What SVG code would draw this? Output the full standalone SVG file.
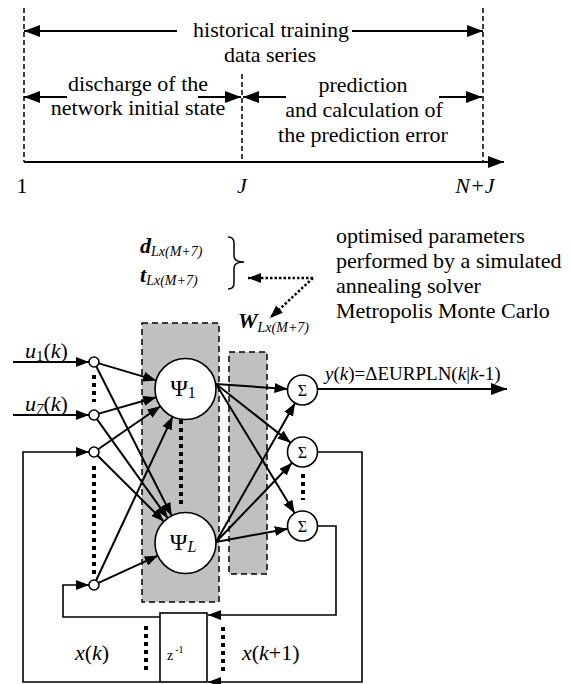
<svg xmlns="http://www.w3.org/2000/svg" width="573" height="684" viewBox="0 0 573 684">
<defs>
<marker id="ah" markerUnits="userSpaceOnUse" markerWidth="13" markerHeight="10" refX="13" refY="5" orient="auto"><path d="M0,0 L13,5 L0,10 z" fill="#000"/></marker>
<marker id="ahL" markerUnits="userSpaceOnUse" markerWidth="16" markerHeight="12" refX="16" refY="6" orient="auto"><path d="M0,0 L16,6 L0,12 z" fill="#000"/></marker>
</defs>

<g id="timeline">
<g stroke="#000" stroke-width="1.5" stroke-dasharray="5,3" fill="none">
<line x1="24" y1="8" x2="24" y2="162"/>
<line x1="242" y1="74" x2="242" y2="162"/>
<line x1="483" y1="8" x2="483" y2="162"/>
</g>
<line stroke="#000" stroke-width="2" x1="24" y1="162" x2="504" y2="162" marker-end="url(#ahL)"/>
<text font-family="Liberation Serif, Tinos, serif" font-size="22" text-anchor="middle" x="22" y="193">1</text>
<text font-family="Liberation Serif, Tinos, serif" font-size="22" text-anchor="middle" font-style="italic" x="242" y="193">J</text>
<text font-family="Liberation Serif, Tinos, serif" font-size="22" text-anchor="middle" font-style="italic" x="475" y="193">N+J</text>
</g>

<g id="historical">
<line stroke="#000" stroke-width="2" x1="177" y1="31" x2="24" y2="31" marker-end="url(#ahL)"/>
<line stroke="#000" stroke-width="2" x1="352" y1="31" x2="483" y2="31" marker-end="url(#ahL)"/>
<text font-family="Liberation Serif, Tinos, serif" font-size="22" text-anchor="middle" x="271" y="37">historical training</text>
<text font-family="Liberation Serif, Tinos, serif" font-size="22" text-anchor="middle" x="270" y="62">data series</text>
</g>

<g id="discharge">
<line stroke="#000" stroke-width="2" x1="67" y1="97" x2="24" y2="97" marker-end="url(#ahL)"/>
<line stroke="#000" stroke-width="2" x1="198" y1="97" x2="241" y2="97" marker-end="url(#ahL)"/>
<text font-family="Liberation Serif, Tinos, serif" font-size="22" text-anchor="middle" x="138" y="91">discharge of the</text>
<text font-family="Liberation Serif, Tinos, serif" font-size="22" text-anchor="middle" x="138" y="115">network initial state</text>
</g>

<g id="prediction">
<line stroke="#000" stroke-width="2" x1="286" y1="97" x2="243" y2="97" marker-end="url(#ahL)"/>
<line stroke="#000" stroke-width="2" x1="439" y1="97" x2="482" y2="97" marker-end="url(#ahL)"/>
<text font-family="Liberation Serif, Tinos, serif" font-size="22" text-anchor="middle" x="363" y="92">prediction</text>
<text font-family="Liberation Serif, Tinos, serif" font-size="22" text-anchor="middle" x="364" y="117">and calculation of</text>
<text font-family="Liberation Serif, Tinos, serif" font-size="22" text-anchor="middle" x="363" y="142">the prediction error</text>
</g>

<g id="params">
<text font-family="Liberation Serif, Tinos, serif" x="140" y="253"><tspan font-weight="bold" font-style="italic" font-size="22">d</tspan><tspan font-style="italic" font-size="14" dy="3">Lx(M+7)</tspan></text>
<text font-family="Liberation Serif, Tinos, serif" x="140" y="282"><tspan font-weight="bold" font-style="italic" font-size="22">t</tspan><tspan font-style="italic" font-size="14" dy="3">Lx(M+7)</tspan></text>
<path d="M228,237 Q234,237 234,243 L234,256 Q234,262 244,262 Q234,262 234,268 L234,283 Q234,289 228,289" stroke="#000" stroke-width="1.5" fill="none"/>
<text font-family="Liberation Serif, Tinos, serif" x="238" y="328"><tspan font-weight="bold" font-style="italic" font-size="22">W</tspan><tspan font-style="italic" font-size="14" dy="4">Lx(M+7)</tspan></text>
</g>

<g id="optimiser">
<text font-family="Liberation Serif, Tinos, serif" font-size="22" x="336" y="243">optimised parameters</text>
<text font-family="Liberation Serif, Tinos, serif" font-size="22" x="336" y="268">performed by a simulated</text>
<text font-family="Liberation Serif, Tinos, serif" font-size="22" x="336" y="293">annealing solver</text>
<text font-family="Liberation Serif, Tinos, serif" font-size="22" x="336" y="318">Metropolis Monte Carlo</text>
</g>

<g id="layers" fill="#c0c0c0" stroke="#000" stroke-width="1.5" stroke-dasharray="6,4">
<rect x="142" y="323" width="77" height="279"/>
<rect x="229" y="352" width="38" height="222"/>
</g>

<g id="connectors" fill="none" stroke="#000">
<g stroke-width="2" marker-end="url(#ah)">
<line x1="13" y1="362" x2="89" y2="362"/>
<line x1="13" y1="415" x2="89" y2="415"/>
<line x1="98.8" y1="363.4" x2="156.2" y2="380.4"/>
<line x1="96.3" y1="366.5" x2="171.7" y2="515.8"/>
<line x1="98.8" y1="413.6" x2="156.2" y2="397.3"/>
<line x1="96.9" y1="419.1" x2="167.8" y2="518.2"/>
<line x1="98.1" y1="449.2" x2="160.4" y2="406.3"/>
<line x1="97.5" y1="455.5" x2="163.9" y2="521.5"/>
<line x1="96.1" y1="580.5" x2="172.6" y2="416.6"/>
<line x1="98.5" y1="582.9" x2="157.8" y2="555.7"/>
<line x1="216" y1="384" x2="287.5" y2="389"/>
<line x1="216" y1="384" x2="290.7" y2="442.7"/>
<line x1="216" y1="384" x2="294.7" y2="513.2"/>
<line x1="216" y1="542" x2="295.1" y2="403"/>
<line x1="216" y1="542" x2="292.1" y2="462.8"/>
<line x1="216" y1="542" x2="287.8" y2="528.7"/>
</g>
<line stroke-width="2" x1="317.5" y1="389" x2="507" y2="389" marker-end="url(#ahL)"/>
<g stroke-width="1.6" marker-end="url(#ah)">
<polyline points="317.5,452 362,452 362,682 208,682"/>
<polyline points="317.5,526 336,526 336,615 208,615"/>
<polyline points="160,617 63,617 63,585 89,585"/>
<polyline points="160,682 23,682 23,452 89,452"/>
</g>
<g stroke-width="2.5" stroke-dasharray="2.5,2" marker-end="url(#ah)">
<polyline points="313,278 248,278"/>
<polyline points="313,278 270,318"/>
</g>
<g stroke-width="4" stroke-dasharray="4,4">
<line x1="94" y1="375" x2="94" y2="402"/>
<line x1="94" y1="466" x2="94" y2="574"/>
<line x1="181" y1="420" x2="181" y2="506"/>
<line x1="303" y1="474" x2="303" y2="500"/>
<line x1="146" y1="626" x2="146" y2="672"/>
<line x1="223" y1="627" x2="223" y2="672"/>
</g>
</g>

<g id="in1"><circle fill="#fff" stroke="#000" stroke-width="1.6" cx="94" cy="362" r="5"/></g>
<g id="in7"><circle fill="#fff" stroke="#000" stroke-width="1.6" cx="94" cy="415" r="5"/></g>
<g id="inx1"><circle fill="#fff" stroke="#000" stroke-width="1.6" cx="94" cy="452" r="5"/></g>
<g id="inxM"><circle fill="#fff" stroke="#000" stroke-width="1.6" cx="94" cy="585" r="5"/></g>
<g id="label-u1"><text font-family="Liberation Serif, Tinos, serif" font-size="22" x="25" y="358"><tspan font-style="italic">u</tspan><tspan font-size="15" dy="3">1</tspan><tspan dy="-3">(</tspan><tspan font-style="italic">k</tspan>)</text></g>
<g id="label-u7"><text font-family="Liberation Serif, Tinos, serif" font-size="22" x="25" y="411"><tspan font-style="italic">u</tspan><tspan font-size="15" dy="3" font-style="italic">7</tspan><tspan dy="-3">(</tspan><tspan font-style="italic">k</tspan>)</text></g>

<g id="psi1"><circle fill="#fff" stroke="#000" stroke-width="1.6" cx="185.5" cy="389" r="30.5"/><text font-family="Liberation Serif, Tinos, serif" text-anchor="middle" x="183" y="396" font-size="24">Ψ<tspan font-size="16" dy="2">1</tspan></text></g>
<g id="psiL"><circle fill="#fff" stroke="#000" stroke-width="1.6" cx="185.5" cy="543" r="30.5"/><text font-family="Liberation Serif, Tinos, serif" text-anchor="middle" x="183" y="550" font-size="24">Ψ<tspan font-size="16" dy="2" font-style="italic">L</tspan></text></g>

<g id="sum1"><circle fill="#fff" stroke="#000" stroke-width="1.6" cx="302.5" cy="390" r="15"/><text font-family="Liberation Serif, Tinos, serif" text-anchor="middle" x="302.5" y="396" font-size="16">Σ</text></g>
<g id="sum2"><circle fill="#fff" stroke="#000" stroke-width="1.6" cx="302.5" cy="452" r="15"/><text font-family="Liberation Serif, Tinos, serif" text-anchor="middle" x="302.5" y="458" font-size="16">Σ</text></g>
<g id="sum3"><circle fill="#fff" stroke="#000" stroke-width="1.6" cx="302.5" cy="526" r="15"/><text font-family="Liberation Serif, Tinos, serif" text-anchor="middle" x="302.5" y="532" font-size="16">Σ</text></g>

<g id="output"><text font-family="Liberation Serif, Tinos, serif" x="325" y="380" font-size="19"><tspan font-style="italic">y</tspan>(<tspan font-style="italic">k</tspan>)=ΔEURPLN(<tspan font-style="italic">k</tspan>|<tspan font-style="italic">k</tspan>-1)</text></g>

<g id="delay"><rect x="160" y="613" width="47" height="69" fill="#fff" stroke="#000" stroke-width="1.6"/><text font-family="Liberation Serif, Tinos, serif" x="167" y="660" font-size="14">z<tspan font-size="10" dy="-7" dx="2">-1</tspan></text></g>

<g id="label-x"><text font-family="Liberation Serif, Tinos, serif" font-size="22" x="75" y="660"><tspan font-style="italic">x</tspan>(<tspan font-style="italic">k</tspan>)</text></g>
<g id="label-x1"><text font-family="Liberation Serif, Tinos, serif" font-size="22" x="242" y="660"><tspan font-style="italic">x</tspan>(<tspan font-style="italic">k</tspan>+1)</text></g>
</svg>
